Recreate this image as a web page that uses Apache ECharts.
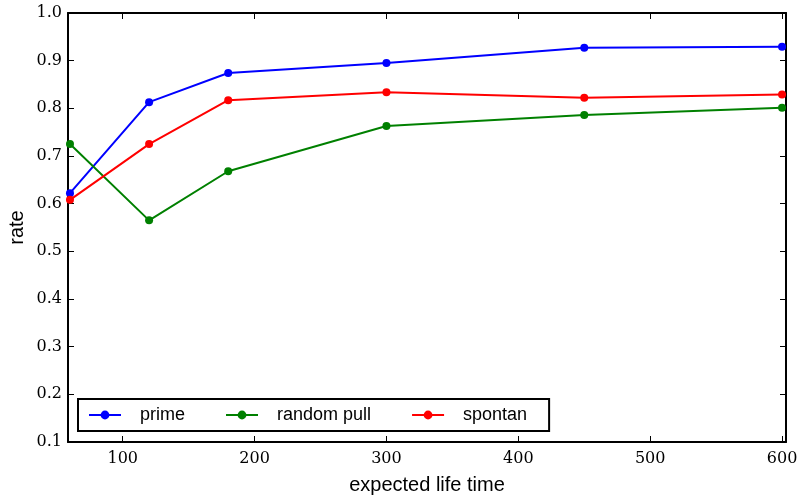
<!DOCTYPE html>
<html>
<head>
<meta charset="utf-8">
<script src="https://cdn.jsdelivr.net/npm/echarts@6/dist/echarts.min.js"></script>
<style>
  html, body { margin: 0; padding: 0; background: #fff; }
  #chart { width: 799px; height: 496px; }
</style>
</head>
<body>
<div id="chart"></div>
<script>
// data
const lifeTimes = [60, 120, 180, 300, 450, 600]
const prime = [0.622, 0.813, 0.874, 0.895, 0.927, 0.929]
const randomPull = [0.725, 0.565, 0.668, 0.763, 0.786, 0.801]
const spontan = [0.608, 0.725, 0.817, 0.834, 0.822, 0.829]

const xTicks = [100, 200, 300, 400, 500, 600]

const pairs = (ys) => lifeTimes.map((x, i) => [x, ys[i]])

const serif = '"DejaVu Serif", "Liberation Serif", serif'
const sans = '"Liberation Sans", Arial, sans-serif'

const chart = echarts.init(document.getElementById('chart'))

const tickInside = { show: true, inside: true, length: 6, lineStyle: { color: '#000', width: 1 } }
const axisLine = { show: true, lineStyle: { color: '#000', width: 2 } }

const mkSeries = (name, color, ys) => ({
  name: name,
  type: 'line',
  data: pairs(ys),
  symbol: 'circle',
  symbolSize: 8,
  showSymbol: true,
  lineStyle: { color: color, width: 2 },
  itemStyle: { color: color },
  animation: false
})

chart.setOption({
  backgroundColor: '#fff',
  grid: { left: 68, right: 13, top: 13, bottom: 54, outerBoundsMode: 'none' },
  legend: {
    left: 78,
    top: 399,
    orient: 'horizontal',
    itemWidth: 32,
    itemHeight: 11,
    itemGap: 40,
    padding: [7, 22, 7, 10],
    borderColor: '#000',
    borderWidth: 2,
    textStyle: { fontFamily: sans, fontSize: 18, color: '#000', padding: [0, 0, 0, 14] },
    data: ['prime', 'random pull', 'spontan']
  },
  xAxis: [{
    type: 'value',
    min: 58.5,
    max: 603,
    name: 'expected life time',
    nameLocation: 'middle',
    nameGap: 33,
    nameTextStyle: { fontFamily: sans, fontSize: 20, color: '#000' },
    axisLine: axisLine,
    splitLine: { show: false },
    axisLabel: {
      color: '#000', fontFamily: serif, fontSize: 16, margin: 9,
      customValues: xTicks
    },
    axisTick: Object.assign({ customValues: xTicks }, tickInside)
  }, {
    type: 'value',
    position: 'top',
    min: 58.5,
    max: 603,
    axisLine: axisLine,
    axisTick: Object.assign({ customValues: xTicks }, tickInside),
    axisLabel: { show: false },
    splitLine: { show: false }
  }],
  yAxis: [{
    type: 'value',
    min: 0.1,
    max: 1.0,
    interval: 0.1,
    name: 'rate',
    nameLocation: 'middle',
    nameGap: 41,
    nameMoveOverlap: false,
    nameRotate: 90,
    nameTextStyle: { fontFamily: sans, fontSize: 20, color: '#000' },
    axisLine: axisLine,
    axisTick: tickInside,
    splitLine: { show: false },
    axisLabel: {
      color: '#000', fontFamily: serif, fontSize: 16, margin: 6,
      formatter: (v) => v.toFixed(1)
    }
  }, {
    type: 'value',
    position: 'right',
    min: 0.1,
    max: 1.0,
    interval: 0.1,
    axisLine: axisLine,
    axisTick: tickInside,
    axisLabel: { show: false },
    splitLine: { show: false }
  }],
  series: [
    mkSeries('prime', '#0000ff', prime),
    mkSeries('random pull', '#008000', randomPull),
    mkSeries('spontan', '#ff0000', spontan)
  ]
})
</script>
</body>
</html>
